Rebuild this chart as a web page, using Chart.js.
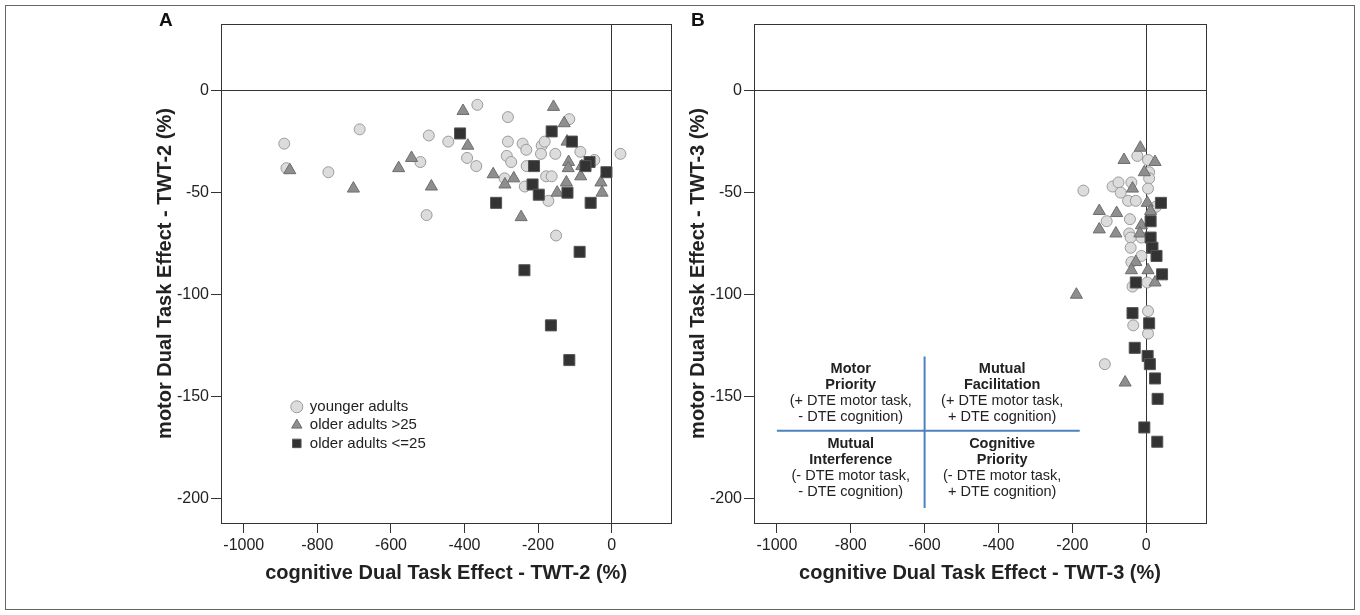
<!DOCTYPE html>
<html>
<head>
<meta charset="utf-8">
<script src="https://cdn.jsdelivr.net/npm/chart.js@4/dist/chart.umd.min.js"></script>
<style>
  html, body { margin: 0; padding: 0; background: #fff; }
  body { width: 1360px; height: 615px; position: relative; overflow: hidden;
         font-family: "Liberation Sans", Arial, sans-serif; }
  .frame { position: absolute; left: 5px; top: 5px; width: 1348px; height: 603px; border: 1px solid #666; }
  .panel { position: absolute; top: 0; width: 680px; height: 615px; }
  .tag { position: absolute; top: 10px; line-height: 20px; font-size: 19px; font-weight: bold; color: #111; }
</style>
</head>
<body>
<div class="frame"></div>
<div class="panel" style="left:0"><canvas id="chartA" width="680" height="615"></canvas></div>
<div class="panel" style="left:680px"><canvas id="chartB" width="680" height="615"></canvas></div>
<div class="tag" style="left:159px">A</div>
<div class="tag" style="left:691px">B</div>

<script>
/* ---- axes ---- */
const X_MIN = -1062, X_MAX = 162;
const Y_MIN = -211.8, Y_MAX = 32.6;
const X_TICKS = [-1000, -800, -600, -400, -200, 0];
const Y_TICKS = [0, -50, -100, -150, -200];

const GROUPS = ['younger adults', 'older adults >25', 'older adults <=25'];

/* ---- panel A : TWT-2 ---- */
const A_YOUNG_X = [-890, -685, -497, -444, -884, -770, -520, -503, -365, -282, -115, -393, -368, -282, -242, -232,
                   -285, -273, -190, -182, -192, -153, -85, -47, 24, -231, -291, -236, -178, -163, -172, -151];
const A_YOUNG_Y = [-26, -19, -22, -25, -38, -40, -35, -61, -7, -13, -14, -33, -37, -25, -26, -29,
                   -32, -35, -27, -25, -31, -31, -30, -34, -31, -37, -43, -47, -42, -42, -54, -71];
const A_OLD_HI_X = [-875, -702, -579, -544, -490, -404, -158, -129, -391, -121, -117,
                    -118, -81, -84, -322, -266, -290, -123, -148, -29, -26, -246];
const A_OLD_HI_Y = [-39, -48, -38, -33, -47, -10, -8, -16, -27, -25, -35,
                    -38, -37, -42, -41, -43, -46, -45, -50, -45, -50, -62];
const A_OLD_LO_X = [-412, -163, -108, -60, -71, -14, -211, -215, -198, -120, -314, -57, -87, -237, -165, -115];
const A_OLD_LO_Y = [-21, -20, -25, -35, -37, -40, -37, -46, -51, -50, -55, -55, -79, -88, -115, -132];

/* ---- panel B : TWT-3 ---- */
const B_YOUNG_X = [-24, 5, -170, -91, -75, -69, -40, 8, 8, 5, -49, -28, 26, -107, -44,
                   -46, -13, -42, -42, -13, -40, -37, 3, 5, -35, 5, -112];
const B_YOUNG_Y = [-32, -34, -49, -47, -45, -50, -45, -40, -43, -48, -54, -54, -57, -64, -63,
                   -70, -72, -72, -77, -81, -84, -96, -94, -108, -115, -119, -134];
const B_OLD_HI_X = [-16, -60, 24, -5, -37, 3, 12, -127, -80, -127, -82, -13, -17, -28, -40, 5, 24, -189, -57];
const B_OLD_HI_Y = [-28, -34, -35, -40, -48, -55, -59, -59, -60, -68, -70, -66, -70, -84, -88, -88, -94, -100, -143];
const B_OLD_LO_X = [40, 12, 12, 17, 28, 43, -28, -37, 8, -31, 4, 10, 24, 31, -5, 30];
const B_OLD_LO_Y = [-55, -64, -72, -77, -81, -90, -94, -109, -114, -126, -130, -134, -141, -151, -165, -172];

/* ---- quadrant cross in panel B ---- */
const QUAD_H_X = [-1000, -180];
const QUAD_H_Y = -166.6;
const QUAD_V_X = -600;
const QUAD_V_Y = [-130.3, -204.5];
const QUAD_TEXT = [
  ['Motor', 'Priority', '(+ DTE motor task,', '- DTE cognition)'],
  ['Mutual', 'Facilitation', '(+ DTE motor task,', '+ DTE cognition)'],
  ['Mutual', 'Interference', '(- DTE motor task,', '- DTE cognition)'],
  ['Cognitive', 'Priority', '(- DTE motor task,', '+ DTE cognition)'],
];

const MARKS = [
  { pointStyle: 'circle',   radius: 5.5, bg: '#dcdcdc', border: '#9a9a9a', order: 3 },
  { pointStyle: 'triangle', radius: 7,   bg: '#8e8e8e', border: '#6e6e6e', order: 2 },
  { pointStyle: 'rect',     radius: 7.8, bg: '#333333', border: '#555555', order: 1 },
];

const FONT = '"Liberation Sans", Arial, sans-serif';
Chart.defaults.font.family = FONT;
Chart.defaults.color = '#222';

function pts(xs, ys) { return xs.map((x, i) => ({ x, y: ys[i] })); }

function groupSets(series) {
  return series.map(([xs, ys], i) => ({
    label: GROUPS[i],
    data: pts(xs, ys),
    pointStyle: MARKS[i].pointStyle,
    pointRadius: MARKS[i].radius,
    pointHoverRadius: MARKS[i].radius,
    backgroundColor: MARKS[i].bg,
    borderColor: MARKS[i].border,
    pointBorderWidth: 1,
    borderWidth: 1,
    order: MARKS[i].order,
  }));
}

/* plot box on all four sides */
const frameBox = {
  id: 'frameBox',
  beforeDatasetsDraw(chart) {
    const { ctx, chartArea: a } = chart;
    ctx.save();
    ctx.strokeStyle = '#333';
    ctx.lineWidth = 1;
    ctx.strokeRect(Math.round(a.left) + 0.5, Math.round(a.top) + 0.5,
                   Math.round(a.right - a.left), Math.round(a.bottom - a.top));
    ctx.restore();
  }
};

/* put the legend inside the plot, lower left */
const legendSpot = {
  id: 'legendSpot',
  afterLayout(chart) {
    const at = chart.options.plugins.legendSpot;
    const lg = chart.legend;
    if (!at || !lg) return;
    lg.left = at.left; lg.top = at.top;
    lg.right = at.left + lg.width; lg.bottom = at.top + lg.height;
  }
};

/* quadrant captions around the blue cross */
const quadrantText = {
  id: 'quadrantText',
  afterDatasetsDraw(chart) {
    if (!chart.options.plugins.quadrantText) return;
    const { ctx, scales: { x, y } } = chart;
    const cy = y.getPixelForValue(QUAD_H_Y);
    const colX = [
      x.getPixelForValue((QUAD_H_X[0] + QUAD_V_X) / 2),
      x.getPixelForValue((QUAD_V_X + QUAD_H_X[1]) / 2),
    ];
    const topRows = [-62, -46, -30, -14];
    const lowRows = [13, 29, 45, 61];
    ctx.save();
    ctx.fillStyle = '#222';
    ctx.textAlign = 'center';
    ctx.textBaseline = 'middle';
    QUAD_TEXT.forEach((lines, q) => {
      const cx = colX[q % 2];
      const rows = q < 2 ? topRows : lowRows;
      lines.forEach((t, i) => {
        ctx.font = (i < 2 ? 'bold ' : '') + '14.5px ' + FONT;
        ctx.fillText(t, cx, cy + rows[i]);
      });
    });
    ctx.restore();
  }
};

function scales(xTitle, yTitle, yWidth, yTitlePad) {
  const zeroLine = c => (c.tick && c.tick.value === 0 ? '#333' : 'rgba(0,0,0,0)');
  return {
    x: {
      type: 'linear', min: X_MIN, max: X_MAX,
      afterBuildTicks: s => { s.ticks = X_TICKS.map(v => ({ value: v })); },
      afterFit: s => { s.height = 62; },
      grid: { color: zeroLine, tickColor: '#333', tickLength: 10, lineWidth: 1 },
      border: { display: true, color: '#333', width: 1 },
      ticks: { color: '#222', font: { size: 16 }, padding: 3, maxRotation: 0, callback: v => String(v) },
      title: { display: true, text: xTitle, color: '#222', font: { size: 20, weight: 'bold' },
               padding: { top: 0, bottom: 0 } },
    },
    y: {
      type: 'linear', min: Y_MIN, max: Y_MAX,
      afterBuildTicks: s => { s.ticks = Y_TICKS.map(v => ({ value: v })); },
      afterFit: s => { s.width = yWidth; },
      grid: { color: zeroLine, tickColor: '#333', tickLength: 10, lineWidth: 1 },
      border: { display: true, color: '#333', width: 1 },
      ticks: { color: '#222', font: { size: 16 }, padding: 2, callback: v => String(v) },
      title: { display: true, text: yTitle, color: '#222', font: { size: 20, weight: 'bold' },
               padding: { top: yTitlePad, bottom: 0 } },
    },
  };
}

/* ---- panel A ---- */
new Chart(document.getElementById('chartA'), {
  type: 'scatter',
  data: {
    datasets: groupSets([
      [A_YOUNG_X, A_YOUNG_Y],
      [A_OLD_HI_X, A_OLD_HI_Y],
      [A_OLD_LO_X, A_OLD_LO_Y],
    ]),
  },
  options: {
    responsive: false,
    animation: false,
    layout: { padding: { left: 140, right: 7, top: 24, bottom: 30 } },
    scales: scales('cognitive Dual Task Effect - TWT-2 (%)', 'motor Dual Task Effect - TWT-2 (%)', 81, 13),
    plugins: {
      legend: {
        position: 'chartArea',
        align: 'start',
        labels: {
          usePointStyle: true, boxWidth: 11, boxHeight: 8.5, padding: 3.3,
          color: '#222', font: { size: 15 },
          sort: (a, b) => a.datasetIndex - b.datasetIndex,
        },
      },
      legendSpot: { left: 288, top: 396 },
      tooltip: { enabled: false },
    },
  },
  plugins: [frameBox, legendSpot],
});

/* ---- panel B ---- */
const crossSets = [
  { data: QUAD_H_X.map(x => ({ x, y: QUAD_H_Y })) },
  { data: QUAD_V_Y.map(y => ({ x: QUAD_V_X, y })) },
].map(d => ({
  ...d, type: 'line', showLine: true, borderColor: '#4f81bd', borderWidth: 2,
  pointRadius: 0, pointHoverRadius: 0, order: 5,
}));

new Chart(document.getElementById('chartB'), {
  type: 'scatter',
  data: {
    datasets: groupSets([
      [B_YOUNG_X, B_YOUNG_Y],
      [B_OLD_HI_X, B_OLD_HI_Y],
      [B_OLD_LO_X, B_OLD_LO_Y],
    ]).concat(crossSets),
  },
  options: {
    responsive: false,
    animation: false,
    layout: { padding: { left: 0, right: 154, top: 24, bottom: 30 } },
    scales: scales('cognitive Dual Task Effect - TWT-3 (%)', 'motor Dual Task Effect - TWT-3 (%)', 74, 6),
    plugins: {
      legend: { display: false },
      tooltip: { enabled: false },
      quadrantText: true,
    },
  },
  plugins: [frameBox, quadrantText],
});
</script>
</body>
</html>
